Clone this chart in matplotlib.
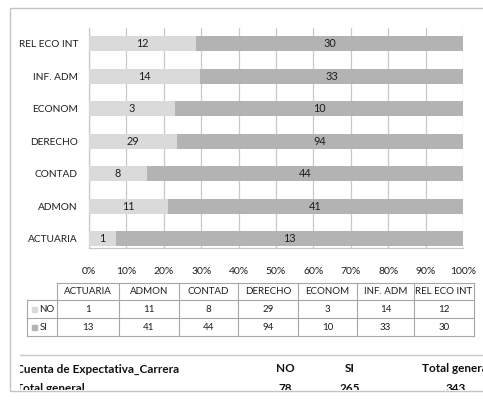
import matplotlib
matplotlib.use('Agg')
import matplotlib.pyplot as plt
from matplotlib.patches import Rectangle
import numpy as np

plt.rcParams['font.family'] = ['Lato', 'DejaVu Sans']

# data
carreras = ['ACTUARIA', 'ADMON', 'CONTAD', 'DERECHO', 'ECONOM', 'INF. ADM', 'REL ECO INT']
no_vals = [1, 11, 8, 29, 3, 14, 12]
si_vals = [13, 41, 44, 94, 10, 33, 30]
series = ['NO', 'SI']
pct_ticks = [0, 10, 20, 30, 40, 50, 60, 70, 80, 90, 100]
resumen_titulo = 'Cuenta de Expectativa_Carrera'
resumen_fila = 'Total general'

c_no = '#dadada'
c_si = '#b3b3b3'
c_grid = '#c8c8c8'
c_txt = '#1e1e1e'

W, H = 483, 403
fig = plt.figure(figsize=(W / 100, H / 100), dpi=100)

def px_axes(x0, y0, x1, y1):
    # pixel box (top-left origin) -> figure axes
    return fig.add_axes([x0 / W, 1 - y1 / H, (x1 - x0) / W, (y1 - y0) / H])

# overlay for frame, table and summary
ov = fig.add_axes([0, 0, 1, 1])
ov.set_xlim(0, W)
ov.set_ylim(H, 0)
ov.axis('off')
ov.add_patch(Rectangle((10, 8), 490, 383, fill=False, edgecolor='#c4c4c4', lw=1.0))

# main chart
ax = px_axes(89, 28, 463, 248)
no = np.array(no_vals, dtype=float)
si = np.array(si_vals, dtype=float)
tot = no + si
p_no = no / tot * 100
p_si = si / tot * 100
y = np.arange(len(carreras))
h = 0.46
ax.barh(y, p_no, height=h, color=c_no, zorder=3)
ax.barh(y, p_si, left=p_no, height=h, color=c_si, zorder=3)
for i in range(len(carreras)):
    ax.text(p_no[i] / 2, y[i], str(no_vals[i]), ha='center', va='center', fontsize=7.8, color=c_txt, zorder=4)
    ax.text(p_no[i] + p_si[i] / 2, y[i], str(si_vals[i]), ha='center', va='center', fontsize=7.8, color=c_txt, zorder=4)

ax.set_xlim(0, 100)
ax.set_ylim(-0.28, 6.49)
ax.set_xticks(pct_ticks)
ax.set_xticklabels(['{}%'.format(t) for t in pct_ticks], fontsize=7.5, color=c_txt)
ax.set_yticks(y)
ax.set_yticklabels(carreras, fontsize=7.3, color=c_txt)
ax.tick_params(axis='x', length=0, pad=14)
ax.tick_params(axis='y', length=0, pad=8)
for t in pct_ticks:
    ax.axvline(t, color=c_grid, lw=0.9, zorder=1)
for s in ['top', 'right']:
    ax.spines[s].set_visible(False)
for s in ['left', 'bottom']:
    ax.spines[s].set_color(c_grid)
    ax.spines[s].set_linewidth(0.9)

# data table below chart
xs = [27, 57, 119, 179, 238, 298, 357, 414, 474]
ys = [283, 300, 318, 336]
lc = '#a6a6a6'
ov.plot([xs[1], xs[-1]], [ys[0], ys[0]], color=lc, lw=0.8)
for yy in ys[1:]:
    ov.plot([xs[0], xs[-1]], [yy, yy], color=lc, lw=0.8)
ov.plot([xs[0], xs[0]], [ys[1], ys[-1]], color=lc, lw=0.8)
for xx in xs[1:]:
    ov.plot([xx, xx], [ys[0], ys[-1]], color=lc, lw=0.8)

for j, name in enumerate(carreras):
    cx = (xs[j + 1] + xs[j + 2]) / 2
    ov.text(cx, (ys[0] + ys[1]) / 2, name, ha='center', va='center', fontsize=7, color=c_txt)
    ov.text(cx, (ys[1] + ys[2]) / 2, str(no_vals[j]), ha='center', va='center', fontsize=7, color=c_txt)
    ov.text(cx, (ys[2] + ys[3]) / 2, str(si_vals[j]), ha='center', va='center', fontsize=7, color=c_txt)

for k, (lab, col) in enumerate(zip(series, [c_no, c_si])):
    yc = (ys[k + 1] + ys[k + 2]) / 2
    ov.add_patch(Rectangle((31.5, yc - 2.5), 5, 5, color=col))
    ov.text(39.5, yc, lab, ha='left', va='center', fontsize=7, color=c_txt)

# summary (pivot table, clipped like the source screenshot)
ov.plot([20, 490], [355, 355], color='#c8c8c8', lw=1.0)
sm = px_axes(20, 356, 483, 390)
sm.set_xlim(20, 483)
sm.set_ylim(390, 356)
sm.axis('off')
cols_x = [285, 350, 456]
sm.text(16, 369, resumen_titulo, ha='left', va='center', fontsize=8.5, fontweight='bold', color='#111111', clip_on=True)
sm.text(16, 388, resumen_fila, ha='left', va='center', fontsize=8.5, fontweight='bold', color='#111111', clip_on=True)
heads = series + ['Total general']
vals = [sum(no_vals), sum(si_vals), sum(no_vals) + sum(si_vals)]
for cx, hd, v in zip(cols_x, heads, vals):
    sm.text(cx, 369, hd, ha='center', va='center', fontsize=8.5, fontweight='bold', color='#111111', clip_on=True)
    sm.text(cx, 388, str(v), ha='center', va='center', fontsize=8.5, fontweight='bold', color='#111111', clip_on=True)

fig.savefig('out.png', dpi=100)
